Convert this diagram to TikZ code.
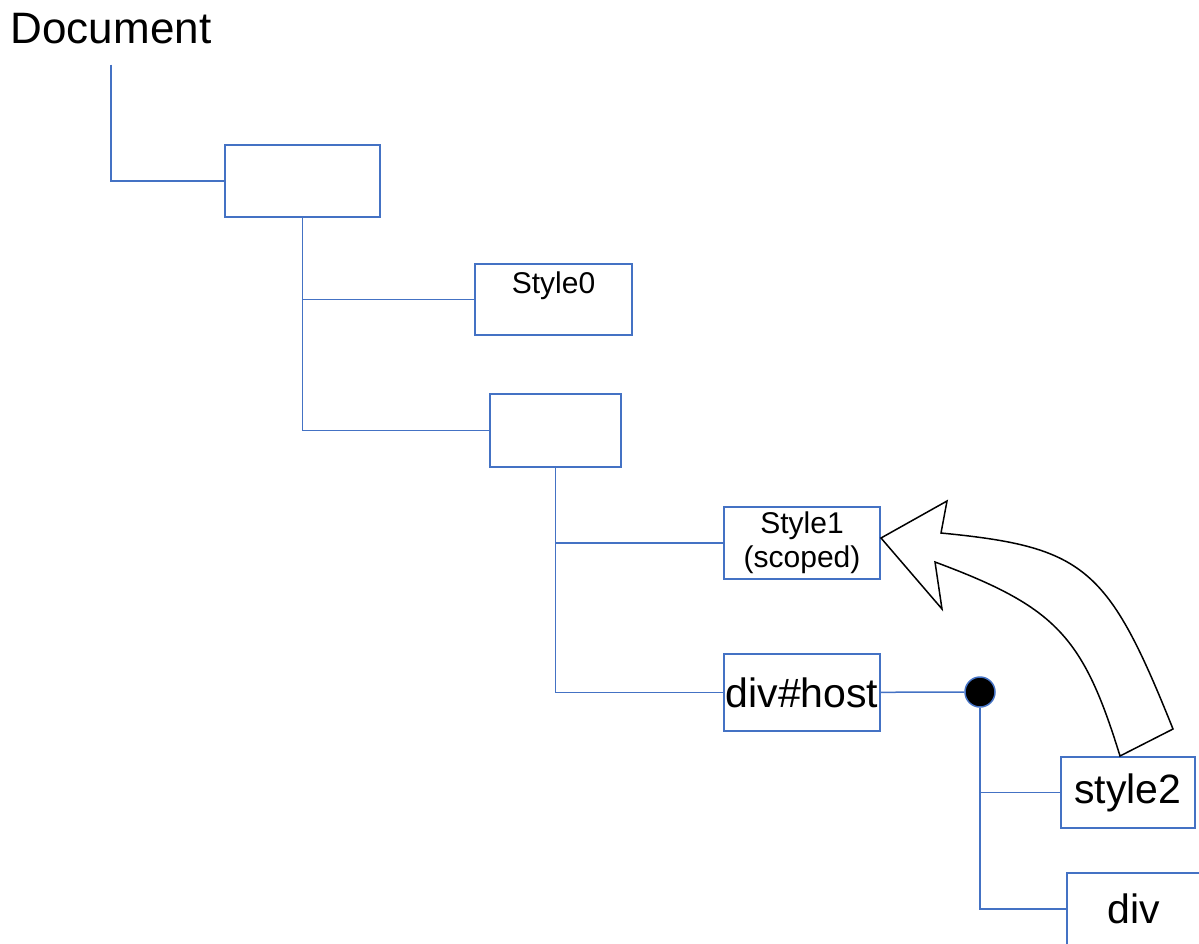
\documentclass[tikz,border=0pt]{standalone}
\usepackage{fontspec}
\setmainfont{Liberation Sans}
\usepackage{tikz}
\definecolor{treeblue}{HTML}{4472C4}

\begin{document}
\begin{tikzpicture}[x=0.5pt, y=-0.5pt, line width=0.75pt,
                    elbow/.style={to path={|- (\tikztotarget) \tikztonodes}},
                    main node/.style={rectangle,draw=treeblue,inner sep=0pt,font=\fontsize{20.5}{24}\selectfont},
                    small node/.style={main node,align=center,font=\fontsize{15}{17}\selectfont},
                    hub node/.style={circle,draw=treeblue,fill=black,minimum size=15pt,inner sep=0pt}]
  \useasboundingbox (0,0) rectangle (1199,943);
  \node[inner sep=0pt,font=\fontsize{22}{26}\selectfont] (doc) at (111,28.5) {Document};
  \node[main node,minimum width=77.5pt,minimum height=36pt] (top) at (302.5,181) {};
  \node[small node,minimum width=78.5pt,minimum height=35.5pt] (style0) at (553.5,299.5) {Style0\\ \mbox{}};
  \node[main node,minimum width=65.5pt,minimum height=36.5pt] (mid) at (555.5,430.5) {};
  \node[small node,minimum width=78pt,minimum height=36pt] (style1) at (802,543) {Style1\\(scoped)};
  \node[main node,minimum width=78pt,minimum height=38.5pt] (host) at (802,692.5) {div\#host};
  \node[hub node] (hub) at (980,692) {};
  \node[main node,minimum width=67pt,minimum height=35.5pt] (style2) at (1128,792.5) {style2};
  \node[main node,minimum width=67pt,minimum height=36pt] (div) at (1134,909) {div};
  \path[draw=treeblue]
    ([yshift=-10pt]doc.south) edge[elbow] (top)
    (top) edge[elbow] (style0)
          edge[elbow] (mid)
    (mid) edge[elbow] (style1)
          edge[elbow] (host)
    (host) edge (hub)
    (hub) edge[elbow] (style2)
          edge[elbow] (div);
  % curved block arrow from style2 back to Style1
  \draw[black,fill=white,line join=miter]
    (881,538) -- (947,501) -- (941,533)
    .. controls (1085,547) and (1108,567) .. (1173,729)
    -- (1120,756)
    .. controls (1083,636) and (1056,607) .. (935,562)
    -- (942,609) -- cycle;
\end{tikzpicture}
\end{document}
